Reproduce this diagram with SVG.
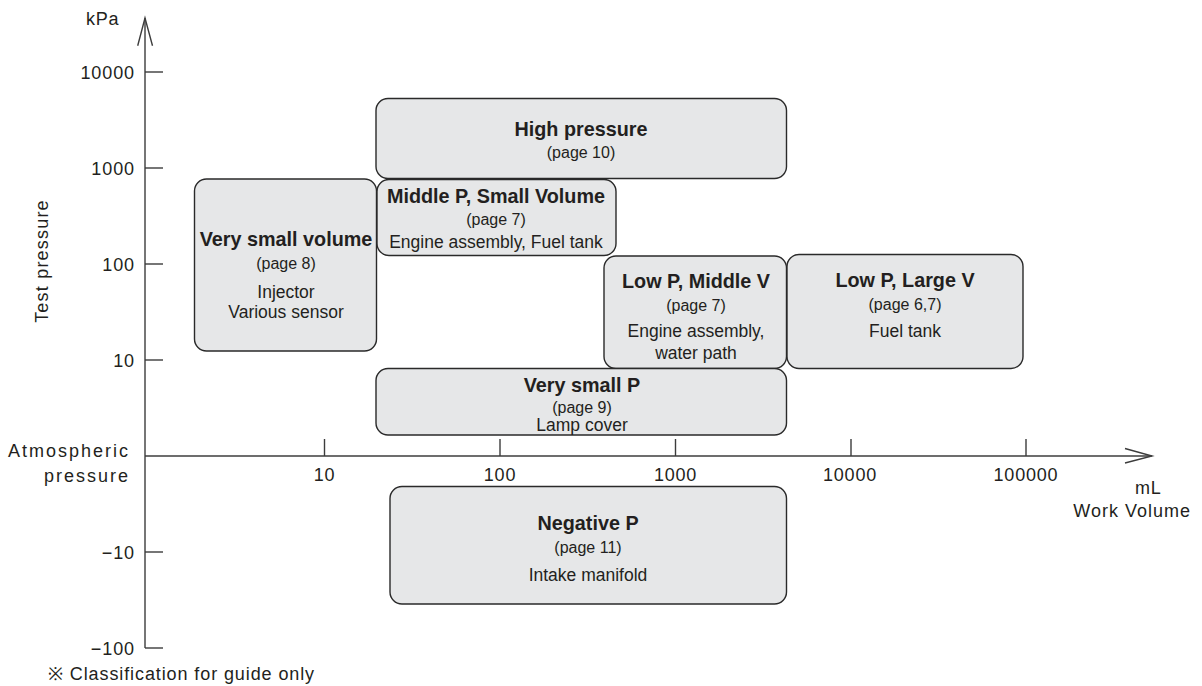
<svg xmlns="http://www.w3.org/2000/svg" width="1202" height="686" viewBox="0 0 1202 686">
<style>
.ax{stroke:#3c3c3c;stroke-width:1.4;fill:none}
.box{fill:#e6e7e8;stroke:#2a2a2a;stroke-width:1.4}
text{font-family:"Liberation Sans",Arial,sans-serif;fill:#231f20}
.lbl{font-size:18px;letter-spacing:0.8px}
.ytl{font-size:18px;letter-spacing:0.9px;text-anchor:end}
.xtl{font-size:18px;letter-spacing:0.8px;text-anchor:middle}
.t{font-size:19.8px;font-weight:bold;text-anchor:middle}
.p{font-size:16px;text-anchor:middle}
.b{font-size:17.5px;text-anchor:middle}
</style>
<rect width="1202" height="686" fill="#ffffff"/>
<g id="axes">
<line class="ax" x1="145" y1="18" x2="145" y2="648"/>
<polyline class="ax" points="137.7,45.7 145,18 152.5,45.7"/>
<line class="ax" x1="145" y1="456" x2="1152" y2="456"/>
<polyline class="ax" points="1125,448.5 1152,456 1125,463"/>
<g class="ax">
<line x1="145" y1="72" x2="163" y2="72"/>
<line x1="145" y1="168" x2="163" y2="168"/>
<line x1="145" y1="264" x2="163" y2="264"/>
<line x1="145" y1="360" x2="163" y2="360"/>
<line x1="145" y1="552" x2="163" y2="552"/>
<line x1="145" y1="648" x2="163" y2="648"/>
<line x1="324.5" y1="439" x2="324.5" y2="456"/>
<line x1="500" y1="439" x2="500" y2="456"/>
<line x1="675.5" y1="439" x2="675.5" y2="456"/>
<line x1="851" y1="439" x2="851" y2="456"/>
<line x1="1026" y1="439" x2="1026" y2="456"/>
</g>
<text class="lbl" x="86" y="25">kPa</text>
<text class="lbl" x="0" y="0" text-anchor="middle" transform="translate(48,261) rotate(-90)" style="letter-spacing:1.2px">Test pressure</text>
<text class="ytl" x="135" y="79">10000</text>
<text class="ytl" x="135" y="175">1000</text>
<text class="ytl" x="135" y="271">100</text>
<text class="ytl" x="135" y="367">10</text>
<text class="ytl" x="135" y="559">−10</text>
<text class="ytl" x="135" y="655">−100</text>
<text class="lbl" x="130" y="456.5" text-anchor="end" style="letter-spacing:2px">Atmospheric</text>
<text class="lbl" x="130" y="481.5" text-anchor="end" style="letter-spacing:2px">pressure</text>
<text class="xtl" x="324.5" y="481">10</text>
<text class="xtl" x="500" y="481">100</text>
<text class="xtl" x="675.5" y="481">1000</text>
<text class="xtl" x="850" y="481">10000</text>
<text class="xtl" x="1026" y="481">100000</text>
<text class="lbl" x="1135" y="494">mL</text>
<text class="lbl" x="1191" y="517" text-anchor="end" style="letter-spacing:1px">Work Volume</text>
<text class="lbl" x="48" y="680" style="letter-spacing:0.9px">※ Classification for guide only</text>
</g>
<g id="high-pressure">
<rect class="box" x="376" y="98.5" width="410.5" height="80" rx="12"/>
<text class="t" x="581" y="136">High pressure</text>
<text class="p" x="581" y="158">(page 10)</text>
</g>
<g id="very-small-volume">
<rect class="box" x="194.5" y="179" width="182" height="172" rx="12"/>
<text class="t" x="286" y="246">Very small volume</text>
<text class="p" x="286" y="269">(page 8)</text>
<text class="b" x="286" y="298">Injector</text>
<text class="b" x="286" y="318">Various sensor</text>
</g>
<g id="middle-p-small-volume">
<rect class="box" x="377" y="179.5" width="239" height="76" rx="12"/>
<text class="t" x="496" y="203">Middle P, Small Volume</text>
<text class="p" x="496" y="225">(page 7)</text>
<text class="b" x="496" y="248">Engine assembly, Fuel tank</text>
</g>
<g id="low-p-middle-v">
<rect class="box" x="604" y="256" width="182.5" height="112.5" rx="12"/>
<text class="t" x="696" y="288">Low P, Middle V</text>
<text class="p" x="696" y="311">(page 7)</text>
<text class="b" x="696" y="337">Engine assembly,</text>
<text class="b" x="696" y="359">water path</text>
</g>
<g id="low-p-large-v">
<rect class="box" x="787" y="254.5" width="236" height="114" rx="12"/>
<text class="t" x="905" y="287">Low P, Large V</text>
<text class="p" x="905" y="310">(page 6,7)</text>
<text class="b" x="905" y="337">Fuel tank</text>
</g>
<g id="very-small-p">
<rect class="box" x="376" y="368.5" width="410.5" height="66.5" rx="12"/>
<text class="t" x="582" y="392">Very small P</text>
<text class="p" x="582" y="413">(page 9)</text>
<text class="b" x="582" y="431">Lamp cover</text>
</g>
<g id="negative-p">
<rect class="box" x="390" y="486.5" width="396.5" height="117.5" rx="12"/>
<text class="t" x="588" y="530">Negative P</text>
<text class="p" x="588" y="553">(page 11)</text>
<text class="b" x="588" y="581">Intake manifold</text>
</g>
</svg>
